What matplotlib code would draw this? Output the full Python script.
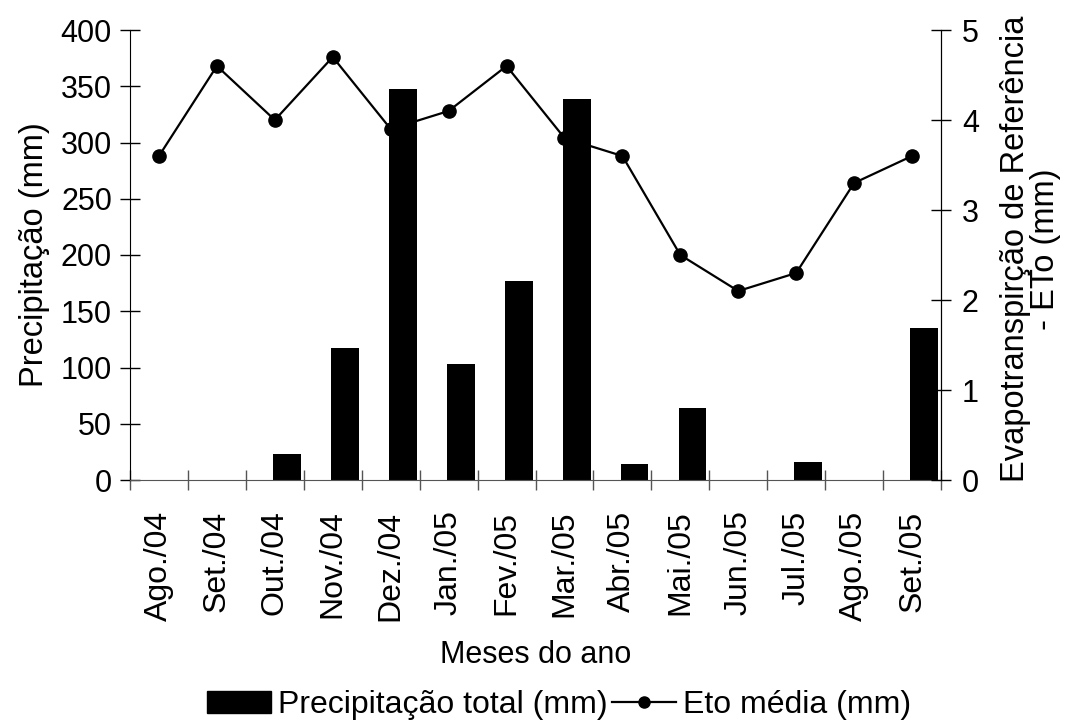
import matplotlib
matplotlib.use("Agg")
import matplotlib.pyplot as plt
import numpy as np
from matplotlib.lines import Line2D
from matplotlib.patches import Patch

plt.rcParams['font.family'] = ['Liberation Sans', 'DejaVu Sans']

months = ["Ago./04", "Set./04", "Out./04", "Nov./04", "Dez./04", "Jan./05", "Fev./05",
          "Mar./05", "Abr./05", "Mai./05", "Jun./05", "Jul./05", "Ago./05", "Set./05"]
precip = [0, 0, 23, 117, 348, 103, 177, 339, 14, 64, 0, 16, 0, 135]
eto = [3.6, 4.6, 4.0, 4.7, 3.9, 4.1, 4.6, 3.8, 3.6, 2.5, 2.1, 2.3, 3.3, 3.6]

FS = 22

fig = plt.figure(figsize=(10.72, 7.22), dpi=100)
ax = fig.add_axes([130/1072, 1-480/722, (941-130)/1072, (480-30)/722])
ax2 = ax.twinx()

x = np.arange(len(months)) + 0.5
ax.bar(x + 0.21, precip, width=0.48, color='black', zorder=2)
ax2.plot(x, eto, color='black', lw=1.6, marker='o', markersize=9.5, zorder=3)

ax.set_xlim(0, len(months))
ax.set_ylim(0, 400)
ax2.set_ylim(0, 5)
ax.set_yticks(np.arange(0, 401, 50))
ax2.set_yticks(np.arange(0, 6, 1))
ax.set_xticks(np.arange(0, len(months) + 1))
ax.set_xticklabels([])
ax.set_xticks(x, minor=True)
ax.set_xticklabels(months, minor=True, rotation=90, fontsize=23)
ax.tick_params(axis='x', which='minor', length=0, pad=22)
ax.tick_params(axis='x', which='major', direction='inout', length=14, width=1, color='#555555')
ax.tick_params(axis='y', direction='inout', length=14, width=1, labelsize=FS, pad=6)
ax2.tick_params(axis='y', direction='inout', length=14, width=1, labelsize=FS, pad=8)

for a in (ax, ax2):
    a.spines['top'].set_visible(False)
ax.spines['bottom'].set_color('#555555')
ax.spines['left'].set_color('black')
ax2.spines['right'].set_color('black')
ax2.spines['left'].set_visible(False)
ax2.spines['bottom'].set_visible(False)

ax.set_ylabel("Precipitação (mm)", fontsize=23.5, labelpad=8)
ax2.set_ylabel("Evapotranspirção de Referência\n- ETo (mm)", fontsize=23.5,
               linespacing=0.95)
ax2.yaxis.set_label_coords((1000 - 130) / 811, 0.513)
ax.set_xlabel("Meses do ano", fontsize=FS, labelpad=14)

handles = [Patch(facecolor='black', edgecolor='black'),
           Line2D([0], [0], color='black', lw=1.6, marker='o', markersize=8)]
fig.legend(handles, ["Precipitação total (mm)", "Eto média (mm)"], loc='center',
           bbox_to_anchor=(559/1072, 1 - 705/722), ncol=2, frameon=False, fontsize=23,
           handlelength=2.0, handletextpad=0.22, columnspacing=0.15,
           borderpad=0, borderaxespad=0)

fig.savefig("out.png", dpi=100)
